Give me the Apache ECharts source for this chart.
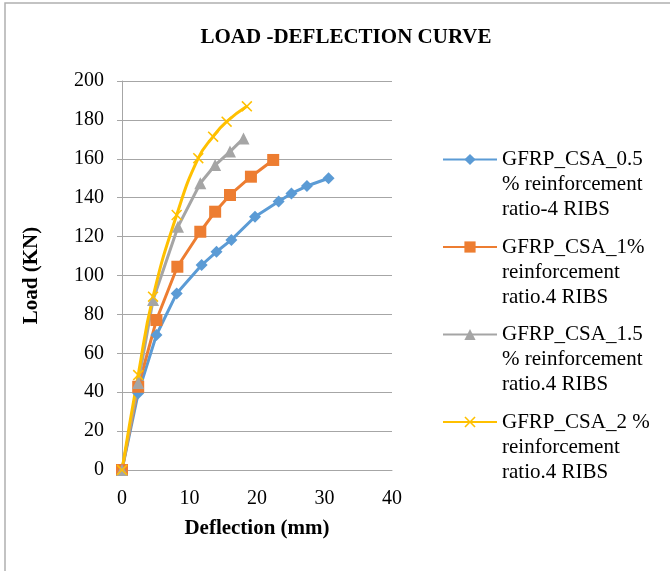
<!DOCTYPE html>
<html>
<head>
<meta charset="utf-8">
<title>Load - Deflection Curve</title>
<script src="https://cdn.jsdelivr.net/npm/echarts@6/dist/echarts.min.js"></script>
<style>
    html,body{margin:0;padding:0;background:#fff;}
    #main{width:670px;height:571px;}
</style>
</head>
<body>
<div id="main"></div>
<script>
// data (deflection mm, load KN)
var seriesNames = [
    "GFRP_CSA_0.5\n% reinforcement\nratio-4 RIBS",
    "GFRP_CSA_1%\nreinforcement\nratio.4 RIBS",
    "GFRP_CSA_1.5\n% reinforcement\nratio.4 RIBS",
    "GFRP_CSA_2 %\nreinforcement\nratio.4 RIBS"
];
var defl05 = [0, 2.4, 5.1, 8.1, 11.8, 14.0, 16.2, 19.7, 23.2, 25.1, 27.4, 30.6];
var load05 = [0, 39.5, 69.4, 90.8, 105.4, 112.2, 118.3, 130.2, 138.0, 142.2, 146.0, 150.0];
var defl10 = [0, 2.4, 5.1, 8.2, 11.6, 13.8, 16.0, 19.1, 22.4];
var load10 = [0, 42.8, 77.1, 104.5, 122.5, 132.8, 141.4, 150.8, 159.4];
var defl15 = [0, 2.4, 4.6, 8.3, 11.6, 13.8, 16.0, 18.0];
var load15 = [0, 44.7, 87.4, 125.1, 147.4, 156.8, 163.7, 170.5];
var defl20 = [0, 2.4, 4.6, 8.1, 11.3, 13.5, 15.5, 18.5];
var load20 = [0, 48.8, 89.1, 131.1, 160.3, 171.4, 179.1, 187.0];

var colors = ['#5b9bd5', '#ed7d31', '#a5a5a5', '#ffc000'];
var crossPath = 'path://M0,1L1,0L5,4L9,0L10,1L6,5L10,9L9,10L5,6L1,10L0,9L4,5Z';
var fontName = '"Liberation Serif", "Times New Roman", serif';

function toPairs(xs, ys){
    var out = [];
    for(var i=0;i<xs.length;i++){
        out.push([xs[i], ys[i]]);
    }
    return out;
}

function buildSeries(name, xs, ys, color, symbol, size, smooth){
    return {
        name: name,
        type: 'line',
        data: toPairs(xs, ys),
        smooth: smooth,
        symbol: symbol,
        symbolSize: size,
        showSymbol: true,
        lineStyle: {color: color, width: 3},
        itemStyle: {color: color},
        emphasis: {disabled: true}
    };
}

function doInit(){
    var myChart = echarts.init(document.getElementById('main'));
    var option = {
        animation: false,
        color: colors,
        graphic: [{
            type: 'rect',
            shape: {x: 5, y: 3, width: 700, height: 600},
            style: {fill: 'none', stroke: '#b0b0b0', lineWidth: 1.5},
            silent: true
        }],
        title: {
            text: 'LOAD -DEFLECTION CURVE',
            left: 341,
            textAlign: 'center',
            top: 22,
            textStyle: {fontFamily: fontName, fontSize: 21, fontWeight: 'bold', color: '#000'}
        },
        legend: {
            orient: 'vertical',
            left: 442,
            top: 97,
            padding: 0,
            itemGap: -37.5,
            itemWidth: 54,
            itemHeight: 14,
            data: seriesNames,
            // two blank lines in front so the icon sits on the first text line
            formatter: function(name){
                return '\n\n' + name;
            },
            textStyle: {
                fontFamily: fontName,
                fontSize: 21,
                lineHeight: 25,
                color: '#000'
            }
        },
        grid: {left: 122, right: 278, top: 81, bottom: 101},
        xAxis: {
            type: 'value',
            min: 0,
            max: 40,
            interval: 10,
            name: 'Deflection (mm)',
            nameLocation: 'middle',
            nameGap: 48,
            nameTextStyle: {fontFamily: fontName, fontSize: 21, fontWeight: 'bold', color: '#000'},
            axisLine: {show: true, lineStyle: {color: '#a6a6a6', width: 1}},
            axisTick: {show: false},
            axisLabel: {fontFamily: fontName, fontSize: 20, color: '#000', margin: 19},
            splitLine: {show: false}
        },
        yAxis: {
            type: 'value',
            min: 0,
            max: 200,
            interval: 20,
            name: 'Load (KN)',
            nameLocation: 'middle',
            nameGap: 80,
            nameTextStyle: {fontFamily: fontName, fontSize: 21, fontWeight: 'bold', color: '#000'},
            axisLine: {show: true, lineStyle: {color: '#a6a6a6', width: 1}},
            axisTick: {show: true, length: 5, lineStyle: {color: '#a6a6a6'}},
            axisLabel: {fontFamily: fontName, fontSize: 20, color: '#000', margin: 18},
            splitLine: {show: true, lineStyle: {color: '#a6a6a6', width: 1}}
        },
        series: [
            buildSeries(seriesNames[0], defl05, load05, colors[0], 'diamond', 12, false),
            buildSeries(seriesNames[1], defl10, load10, colors[1], 'rect', 12, false),
            buildSeries(seriesNames[2], defl15, load15, colors[2], 'triangle', 12, false),
            buildSeries(seriesNames[3], defl20, load20, colors[3], crossPath, 11, true)
        ]
    };
    myChart.setOption(option, true);
}

doInit();
</script>
</body>
</html>
